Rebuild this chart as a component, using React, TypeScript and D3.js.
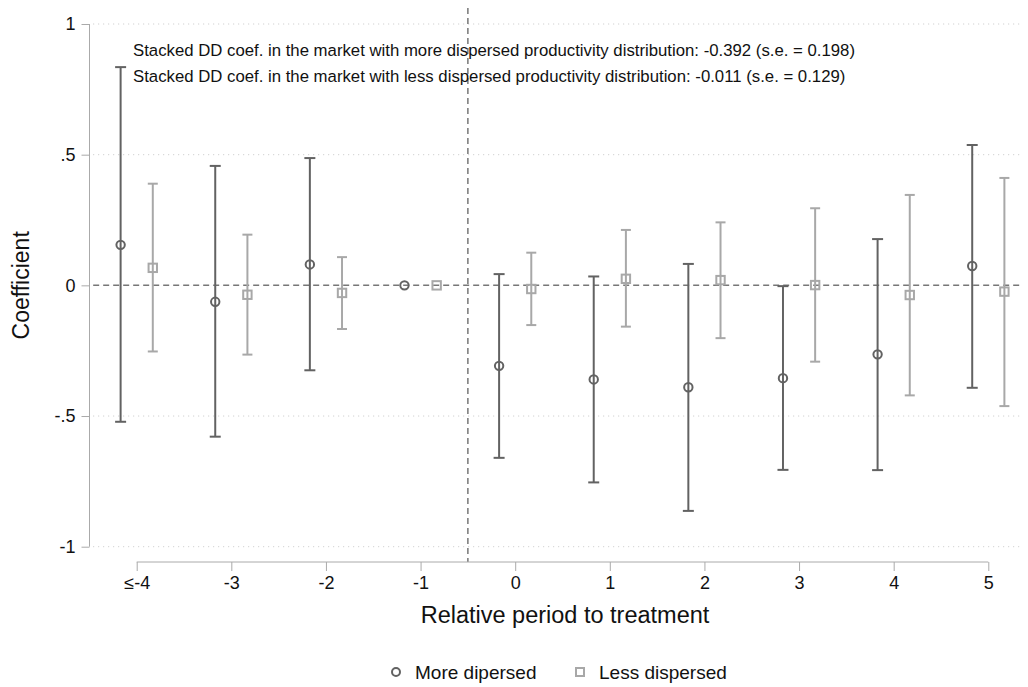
import React, { useEffect, useRef } from 'react';
import * as d3 from 'd3';

const periods = [-4, -3, -2, -1, 0, 1, 2, 3, 4, 5];
const tickLabels = ['≤-4', '-3', '-2', '-1', '0', '1', '2', '3', '4', '5'];

// more dispersed market
const moreCoef = [0.155, -0.063, 0.08, 0, -0.308, -0.36, -0.39, -0.355, -0.264, 0.074];
const moreLo = [-0.522, -0.579, -0.325, 0, -0.66, -0.754, -0.863, -0.706, -0.707, -0.392];
const moreHi = [0.835, 0.457, 0.487, 0, 0.043, 0.034, 0.082, -0.003, 0.177, 0.537];

// less dispersed market
const lessCoef = [0.067, -0.036, -0.029, 0, -0.014, 0.025, 0.02, 0.001, -0.037, -0.024];
const lessLo = [-0.253, -0.265, -0.167, 0, -0.152, -0.158, -0.202, -0.292, -0.421, -0.462];
const lessHi = [0.389, 0.194, 0.108, 0, 0.125, 0.212, 0.241, 0.295, 0.346, 0.411];

const yTicks = [1, 0.5, 0, -0.5, -1];
const yTickLabels = ['1', '.5', '0', '-.5', '-1'];

const notes = [
  'Stacked DD coef. in the market with more dispersed productivity distribution: -0.392 (s.e. = 0.198)',
  'Stacked DD coef. in the market with less dispersed productivity distribution: -0.011 (s.e. = 0.129)',
];

const W = 1028;
const H = 687;
const DARK = '#626262';
const LIGHT = '#a8a8a8';
const FONT = 'Liberation Sans, Arial, sans-serif';

const App = () => {
  const ref = useRef<SVGSVGElement | null>(null);

  useEffect(() => {
    const svg = d3.select(ref.current);
    svg.selectAll('*').remove();

    const x = d3.scaleLinear().domain([-4, 5]).range([136.7, 988.3]);
    const y = d3.scaleLinear().domain([-1, 1]).range([546.7, 24]);
    const plotLeft = x(-4.46);
    const plotRight = x(5.33);
    const off = 0.17;

    // gridlines
    svg.append('g')
      .selectAll('line')
      .data(yTicks.filter((d) => d !== 0))
      .enter()
      .append('line')
      .attr('x1', plotLeft)
      .attr('x2', plotRight)
      .attr('y1', (d) => y(d))
      .attr('y2', (d) => y(d))
      .attr('stroke', '#c8c8c8')
      .attr('stroke-width', 1)
      .attr('stroke-dasharray', '1,4');

    // zero line
    svg.append('line')
      .attr('x1', plotLeft)
      .attr('x2', plotRight)
      .attr('y1', y(0))
      .attr('y2', y(0))
      .attr('stroke', '#777')
      .attr('stroke-width', 1.5)
      .attr('stroke-dasharray', '6,4');

    // treatment line
    svg.append('line')
      .attr('x1', x(-0.5))
      .attr('x2', x(-0.5))
      .attr('y1', 8)
      .attr('y2', 562)
      .attr('stroke', '#777')
      .attr('stroke-width', 1.5)
      .attr('stroke-dasharray', '6,4');

    // y axis
    const yAxis = svg.append('g').attr('transform', 'translate(89.5,0)')
      .call(d3.axisLeft(y).tickValues(yTicks).tickSize(8).tickFormat((_, i) => yTickLabels[i]));
    yAxis.select('.domain').attr('stroke', '#aaa').attr('d', `M0,${y(1)}V${y(-1)}`);
    yAxis.selectAll('.tick line').attr('stroke', '#aaa');
    yAxis.selectAll('.tick text')
      .attr('x', -14)
      .attr('fill', '#111')
      .style('font-family', FONT)
      .style('font-size', '18px');

    // x axis
    const xAxis = svg.append('g').attr('transform', 'translate(0,562)')
      .call(d3.axisBottom(x).tickValues(periods).tickSize(9).tickFormat((_, i) => tickLabels[i]));
    xAxis.select('.domain').attr('stroke', '#aaa').attr('d', `M${x(-4)},0H${x(5)}`);
    xAxis.selectAll('.tick line').attr('stroke', '#aaa');
    xAxis.selectAll('.tick text')
      .attr('y', 14)
      .attr('fill', '#111')
      .style('font-family', FONT)
      .style('font-size', '18px');

    // axis titles
    svg.append('text')
      .attr('x', 565)
      .attr('y', 623)
      .attr('text-anchor', 'middle')
      .style('font-family', FONT)
      .style('font-size', '23.5px')
      .attr('fill', '#111')
      .text('Relative period to treatment');

    svg.append('text')
      .attr('transform', `translate(29,${y(0)}) rotate(-90)`)
      .attr('text-anchor', 'middle')
      .style('font-family', FONT)
      .style('font-size', '23px')
      .attr('fill', '#111')
      .text('Coefficient');

    // error bars
    const drawSeries = (coef, lo, hi, shift, color, cap, shape) => {
      const g = svg.append('g');
      periods.forEach((p, i) => {
        const cx = x(p + shift);
        if (hi[i] !== lo[i]) {
          g.append('line')
            .attr('x1', cx).attr('x2', cx)
            .attr('y1', y(hi[i])).attr('y2', y(lo[i]))
            .attr('stroke', color).attr('stroke-width', 2);
          [hi[i], lo[i]].forEach((v) => {
            g.append('line')
              .attr('x1', cx - cap).attr('x2', cx + cap)
              .attr('y1', y(v)).attr('y2', y(v))
              .attr('stroke', color).attr('stroke-width', 2);
          });
        }
        if (shape === 'circle') {
          g.append('circle')
            .attr('cx', cx).attr('cy', y(coef[i])).attr('r', 4.2)
            .attr('fill', 'none').attr('stroke', color).attr('stroke-width', 2);
        } else {
          g.append('rect')
            .attr('x', cx - 4.2).attr('y', y(coef[i]) - 4.2)
            .attr('width', 8.4).attr('height', 8.4)
            .attr('fill', 'none').attr('stroke', color).attr('stroke-width', 2);
        }
      });
    };

    drawSeries(lessCoef, lessLo, lessHi, off, LIGHT, 5, 'square');
    drawSeries(moreCoef, moreLo, moreHi, -off, DARK, 5.5, 'circle');

    // notes
    svg.selectAll('.note')
      .data(notes)
      .enter()
      .append('text')
      .attr('class', 'note')
      .attr('x', 133)
      .attr('y', (_, i) => 56 + i * 26)
      .style('font-family', FONT)
      .style('font-size', '16.75px')
      .attr('fill', '#111')
      .text((d) => d);

    // legend
    const leg = svg.append('g');
    leg.append('circle')
      .attr('cx', 396).attr('cy', 672).attr('r', 4)
      .attr('fill', 'none').attr('stroke', DARK).attr('stroke-width', 2);
    leg.append('text')
      .attr('x', 415).attr('y', 679)
      .style('font-family', FONT).style('font-size', '19px').attr('fill', '#111')
      .text('More dipersed');
    leg.append('rect')
      .attr('x', 576).attr('y', 668).attr('width', 8).attr('height', 8)
      .attr('fill', 'none').attr('stroke', LIGHT).attr('stroke-width', 2);
    leg.append('text')
      .attr('x', 599).attr('y', 679)
      .style('font-family', FONT).style('font-size', '19px').attr('fill', '#111')
      .text('Less dispersed');
  }, []);

  return (
    <svg
      ref={ref}
      width={W}
      height={H}
      style={{ position: 'absolute', left: 0, top: 0, background: '#fff', display: 'block' }}
    />
  );
};

export default App;
